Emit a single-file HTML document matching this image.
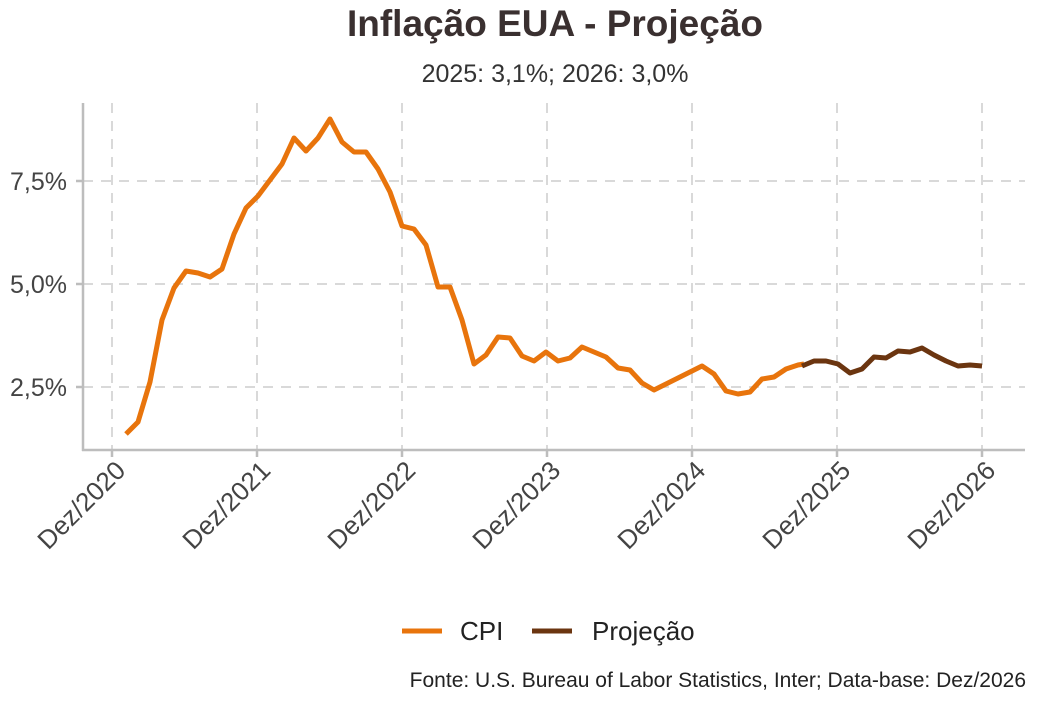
<!DOCTYPE html>
<html><head><meta charset="utf-8"><style>
body{margin:0;background:#fff;}
svg{display:block;font-family:"Liberation Sans",sans-serif;}
</style></head><body>
<svg width="1042" height="706" viewBox="0 0 1042 706">
<text x="555" y="36" text-anchor="middle" font-size="37" font-weight="bold" fill="#3a3030">Inflação EUA - Projeção</text>
<text x="555" y="82" text-anchor="middle" font-size="25" fill="#333">2025: 3,1%; 2026: 3,0%</text>
<g stroke="#d9d9d9" stroke-width="2" stroke-dasharray="10,8">
<line x1="83" y1="181" x2="1025" y2="181"/><line x1="83" y1="284" x2="1025" y2="284"/><line x1="83" y1="387" x2="1025" y2="387"/>
<line x1="112" y1="103" x2="112" y2="450"/><line x1="257" y1="103" x2="257" y2="450"/><line x1="402" y1="103" x2="402" y2="450"/><line x1="547" y1="103" x2="547" y2="450"/><line x1="692" y1="103" x2="692" y2="450"/><line x1="837" y1="103" x2="837" y2="450"/><line x1="982" y1="103" x2="982" y2="450"/>
</g>
<g stroke="#bdbdbd" stroke-width="2.5">
<line x1="83" y1="103" x2="83" y2="451"/><line x1="82" y1="450" x2="1025" y2="450"/>
<line x1="112" y1="450" x2="112" y2="457"/><line x1="257" y1="450" x2="257" y2="457"/><line x1="402" y1="450" x2="402" y2="457"/><line x1="547" y1="450" x2="547" y2="457"/><line x1="692" y1="450" x2="692" y2="457"/><line x1="837" y1="450" x2="837" y2="457"/><line x1="982" y1="450" x2="982" y2="457"/>
<line x1="76" y1="181" x2="83" y2="181"/><line x1="76" y1="284" x2="83" y2="284"/><line x1="76" y1="387" x2="83" y2="387"/>
</g>
<g font-size="25" fill="#444" text-anchor="end">
<text x="67" y="190">7,5%</text><text x="67" y="293">5,0%</text><text x="67" y="396">2,5%</text>
</g>
<g font-size="26" fill="#444" text-anchor="end">
<text transform="translate(127,472) rotate(-45)">Dez/2020</text>
<text transform="translate(272,472) rotate(-45)">Dez/2021</text>
<text transform="translate(417,472) rotate(-45)">Dez/2022</text>
<text transform="translate(562,472) rotate(-45)">Dez/2023</text>
<text transform="translate(707,472) rotate(-45)">Dez/2024</text>
<text transform="translate(852,472) rotate(-45)">Dez/2025</text>
<text transform="translate(997,472) rotate(-45)">Dez/2026</text>
</g>
<polyline fill="none" stroke="#e8740c" stroke-width="5" stroke-linejoin="round" points="126,434 138,422 150,382 162,320 174,288 186,271 198,273 210,277 222,269 234,234 246,208 258,196 270,180 282,164 294,138 306,151 318,138 330,119 342,142 354,152 366,152 378,169 390,192 402,226 414,229 426,245 438,287 450,287 462,320 474,364 486,355 498,337 510,338 522,356 534,361 546,352 558,361 570,358 582,347 594,352 606,357 618,368 630,370 642,383 654,390 666,384 678,378 690,372 702,366 714,374 726,391 738,394 750,392 762,379 774,377 786,369 798,365 804,364"/>
<polyline fill="none" stroke="#6b3510" stroke-width="5" stroke-linejoin="round" points="802,366 814,361 826,361 838,364 850,373 862,369 874,357 886,358 898,351 910,352 922,348 934,355 946,361 958,366 970,365 982,366"/>
<line x1="402" y1="631" x2="442" y2="631" stroke="#e8740c" stroke-width="5"/>
<text x="460" y="640" font-size="26" fill="#222">CPI</text>
<line x1="532" y1="631" x2="572" y2="631" stroke="#6b3510" stroke-width="5"/>
<text x="592" y="640" font-size="26" fill="#222">Projeção</text>
<text x="1026" y="687" text-anchor="end" font-size="21" fill="#222">Fonte: U.S. Bureau of Labor Statistics, Inter; Data-base: Dez/2026</text>
</svg>
</body></html>
